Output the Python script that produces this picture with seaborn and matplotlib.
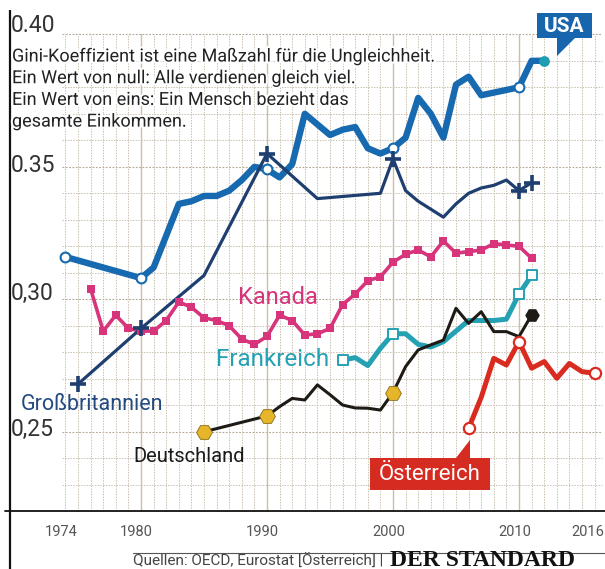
import matplotlib
matplotlib.use("Agg")
import matplotlib.pyplot as plt
import matplotlib.patheffects as pe
from matplotlib.patches import Polygon
import seaborn as sns

# ---------------- data ----------------
usa_years = [1974, 1980, 1981, 1982, 1983, 1984, 1985, 1986, 1987, 1988, 1989, 1990,
             1991, 1992, 1993, 1994, 1995, 1996, 1997, 1998, 1999, 2000,
             2001, 2002, 2003, 2004, 2005, 2006, 2007, 2008, 2009, 2010, 2011, 2012]
usa_gini = [0.316, 0.308, 0.312, 0.324, 0.336, 0.337, 0.339, 0.339, 0.341, 0.345, 0.350, 0.349,
            0.346, 0.351, 0.370, 0.366, 0.362, 0.364, 0.365, 0.357, 0.355, 0.357,
            0.361, 0.376, 0.370, 0.361, 0.381, 0.384, 0.377, 0.378, 0.379, 0.380, 0.390, 0.390]
usa_marker_years = [1974, 1980, 1990, 2000, 2010]
usa_last_year = 2012

gb_years = [1975, 1980, 1985, 1990, 1994, 1999, 2000, 2001, 2002, 2003, 2004, 2005,
            2006, 2007, 2008, 2009, 2010, 2011]
gb_gini = [0.268, 0.289, 0.309, 0.355, 0.338, 0.340, 0.353, 0.341, 0.337, 0.334, 0.331, 0.336,
           0.340, 0.342, 0.343, 0.345, 0.341, 0.344]
gb_marker_years = [1975, 1980, 1990, 2000, 2010, 2011]

ca_years = list(range(1976, 2012))
ca_gini = [0.304, 0.288, 0.294, 0.289, 0.288, 0.288, 0.292, 0.299, 0.297, 0.293,
           0.292, 0.290, 0.285, 0.283, 0.286, 0.294, 0.292, 0.2865, 0.287, 0.289,
           0.298, 0.302, 0.307, 0.3085, 0.314, 0.317, 0.3186, 0.316, 0.322, 0.3174,
           0.318, 0.3186, 0.321, 0.3205, 0.320, 0.3155]

fr_years = list(range(1996, 2012))
fr_gini = [0.277, 0.278, 0.275, 0.2815, 0.287, 0.287, 0.283, 0.282, 0.284, 0.288,
           0.292, 0.292, 0.292, 0.2925, 0.302, 0.309]
fr_marker_years = [1996, 2000, 2010, 2011]

de_years = [1985, 1990, 1991, 1992, 1993, 1994, 1995, 1996, 1997, 1998, 1999, 2000,
            2001, 2002, 2003, 2004, 2005, 2006, 2007, 2008, 2009, 2010, 2011]
de_gini = [0.250, 0.256, 0.2595, 0.2626, 0.262, 0.2677, 0.264, 0.2601, 0.259, 0.2589, 0.2582, 0.2648,
           0.2746, 0.2809, 0.2828, 0.2846, 0.2966, 0.2909, 0.2953, 0.2878, 0.2878, 0.2859, 0.2941]
de_marker_years = [1985, 1990, 2000]
de_last_year = 2011

at_years = list(range(2006, 2017))
at_gini = [0.2513, 0.263, 0.2777, 0.2752, 0.284, 0.274, 0.2765, 0.2702, 0.2758, 0.2727, 0.2721]
at_marker_years = [2006, 2010, 2016]

y_ticks = [0.40, 0.35, 0.30, 0.25]
y_tick_labels = ["0.40", "0.35", "0,30", "0,25"]
x_ticks = [1974, 1980, 1990, 2000, 2010, 2016]
x_tick_labels = ["1974", "1980", "1990", "2000", "2010", "2016"]

note_lines = ["Gini-Koeffizient ist eine Maßzahl für die Ungleichheit.",
              "Ein Wert von null: Alle verdienen gleich viel.",
              "Ein Wert von eins: Ein Mensch bezieht das",
              "gesamte Einkommen."]
source_text = "Quellen: OECD, Eurostat [Österreich] |"
brand_text = "DER STANDARD"

# ---------------- colours ----------------
C_USA = "#1769b0"
C_USA_END = "#1e9db3"
C_GB = "#1f3f70"
C_CA = "#d8347c"
C_FR = "#25a1b4"
C_DE = "#1e1a16"
C_DE_MK = "#e6b52a"
C_AT = "#d92b20"
C_GRID = "#c6bcab"
C_DEC = "#cdbfa6"

# ---------------- figure ----------------
sns.set_theme(style="white")
plt.rcParams["font.family"] = ["Roboto", "DejaVu Sans"]

W, H = 605, 569
PPY = 12.6          # pixels per year
PPU = 2650.0        # pixels per gini unit
X0 = 1980 - 141 / PPY
X1 = X0 + W / PPY
Y1 = 0.30 + 299.3 / PPU
Y0 = Y1 - H / PPU


def px2x(px):
    return X0 + px / PPY


def py2y(py):
    return Y1 - py / PPU


fig = plt.figure(figsize=(W / 100, H / 100), dpi=100)
ax = fig.add_axes([0, 0, 1, 1])
ax.set_xlim(X0, X1)
ax.set_ylim(Y0, Y1)
ax.axis("off")

# grid
gx0, gx1 = px2x(62), px2x(602)
for i in range(23, 41):
    v = i / 100
    major = i % 5 == 0
    ax.plot([gx0, gx1], [v, v], color="#b3a792" if major else C_GRID,
            lw=0.8 if major else 0.65, ls=(0, (1.6, 1.4)), zorder=1)
for yr in range(1974, 2017):
    if yr % 10 == 0:
        ax.plot([yr, yr], [0.22, 0.40], color=C_DEC, lw=1.0, zorder=1.2)
    else:
        ax.plot([yr, yr], [0.22, 0.40], color=C_GRID, lw=0.65, ls=(0, (1.6, 1.4)), zorder=1)

# axis lines
ax.plot([px2x(10), px2x(10)], [py2y(10), Y0], color="#111111", lw=1.6, zorder=2, solid_capstyle="butt")
ax.plot([px2x(5), X1], [0.22, 0.22], color="#111111", lw=1.3, zorder=2)


def line(xs, ys, color, lw, z):
    sns.lineplot(x=xs, y=ys, ax=ax, color=color, lw=lw, zorder=z, legend=False,
                 estimator=None, sort=False, solid_joinstyle="round", solid_capstyle="round")


def pick(xs, ys, sel):
    return [x for x in xs if x in sel], [y for x, y in zip(xs, ys) if x in sel]


line(ca_years, ca_gini, C_CA, 2.6, 3)
line(fr_years, fr_gini, C_FR, 3.6, 3.1)
line(usa_years, usa_gini, C_USA, 4.6, 3.2)
line(de_years, de_gini, C_DE, 2.2, 4)
line(gb_years, gb_gini, C_GB, 2.3, 4.1)
line(at_years, at_gini, C_AT, 3.6, 4.2)

# markers
sns.scatterplot(x=ca_years, y=ca_gini, ax=ax, marker="s", s=34, color=C_CA,
                edgecolor=C_CA, linewidth=0, zorder=5, legend=False)
mx, my = pick(fr_years, fr_gini, fr_marker_years)
sns.scatterplot(x=mx, y=my, ax=ax, marker="s", s=55, color="white",
                edgecolor=C_FR, linewidth=1.4, zorder=5, legend=False)
mx, my = pick(usa_years, usa_gini, usa_marker_years)
sns.scatterplot(x=mx, y=my, ax=ax, marker="o", s=50, color="white",
                edgecolor=C_USA, linewidth=1.5, zorder=5.5, legend=False)
mx, my = pick(usa_years, usa_gini, [usa_last_year])
sns.scatterplot(x=mx, y=my, ax=ax, marker="o", s=60, color=C_USA_END,
                edgecolor=C_USA_END, linewidth=0, zorder=5.5, legend=False)
mx, my = pick(gb_years, gb_gini, gb_marker_years)
sns.scatterplot(x=mx, y=my, ax=ax, marker="+", s=125, color=C_GB,
                linewidth=2.6, zorder=6, legend=False)
mx, my = pick(de_years, de_gini, de_marker_years)
sns.scatterplot(x=mx, y=my, ax=ax, marker="H", s=130, color=C_DE_MK,
                edgecolor="#8a6a10", linewidth=0.6, zorder=6, legend=False)
mx, my = pick(de_years, de_gini, [de_last_year])
sns.scatterplot(x=mx, y=my, ax=ax, marker="H", s=110, color=C_DE,
                edgecolor=C_DE, linewidth=0, zorder=6, legend=False)
mx, my = pick(at_years, at_gini, at_marker_years)
sns.scatterplot(x=mx, y=my, ax=ax, marker="o", s=65, color="white",
                edgecolor=C_AT, linewidth=1.6, zorder=6.5, legend=False)

# y tick labels
y_label_py = [25, 165, 293, 429]
for lab, py in zip(y_tick_labels, y_label_py):
    ax.text(px2x(11), py2y(py), lab, fontsize=16.5, color="#333333",
            ha="left", va="center", zorder=7)

# x tick labels
for yr, lab in zip(x_ticks, x_tick_labels):
    if yr == x_ticks[-1]:
        ax.text(px2x(604), py2y(532), lab, fontsize=10.5, color="#555555",
                ha="right", va="center", zorder=7)
    else:
        ax.text(yr - 0.35, py2y(532), lab, fontsize=10.5, color="#555555",
                ha="center", va="center", zorder=7)

# note text
for i, ln in enumerate(note_lines):
    ax.text(px2x(12), py2y(56.5 + i * 21.7), ln, fontsize=13, color="#222222",
            ha="left", va="center", zorder=8,
            path_effects=[pe.withStroke(linewidth=3, foreground="white")])

# country labels
ax.text(px2x(278), py2y(297), "Kanada", fontsize=17, color=C_CA, ha="center", va="center", zorder=8)
ax.text(px2x(216), py2y(360), "Frankreich", fontsize=17.5, color=C_FR, ha="left", va="center", zorder=8)
ax.text(px2x(21), py2y(405), "Großbritannien", fontsize=15.5, color="#234a80", ha="left", va="center", zorder=8)
ax.text(px2x(133), py2y(456), "Deutschland", fontsize=14.5, color="#1a1a1a", ha="left", va="center", zorder=8)

# USA tag
usa_box = [(537, 13), (592, 13), (592, 38), (575, 38), (557, 56), (557, 38), (537, 38)]
ax.add_patch(Polygon([(px2x(a), py2y(b)) for a, b in usa_box], closed=True,
                     facecolor="#1766ad", edgecolor="none", zorder=8))
ax.text(px2x(564.5), py2y(26), "USA", fontsize=15, fontweight="bold", color="white",
        ha="center", va="center", zorder=9)

# Österreich tag
at_box = [(370, 458), (456, 458), (470, 440), (470, 458), (490, 458), (490, 490), (370, 490)]
ax.add_patch(Polygon([(px2x(a), py2y(b)) for a, b in at_box], closed=True,
                     facecolor="#d62b20", edgecolor="none", zorder=8))
ax.text(px2x(430), py2y(474), "Österreich", fontsize=16, color="white",
        ha="center", va="center", zorder=9)

# footer
ax.plot([px2x(133), X1], [py2y(553), py2y(553)], color="#555555", lw=0.8, zorder=7)
ax.text(px2x(133), py2y(561), source_text, fontsize=11, color="#444444",
        ha="left", va="center", zorder=7)
ax.text(px2x(390), py2y(561), brand_text, fontsize=17, fontweight="bold", color="#111111",
        family=["Liberation Serif", "DejaVu Serif"], ha="left", va="center", zorder=7)

fig.savefig("out.png", dpi=100, facecolor="white")
